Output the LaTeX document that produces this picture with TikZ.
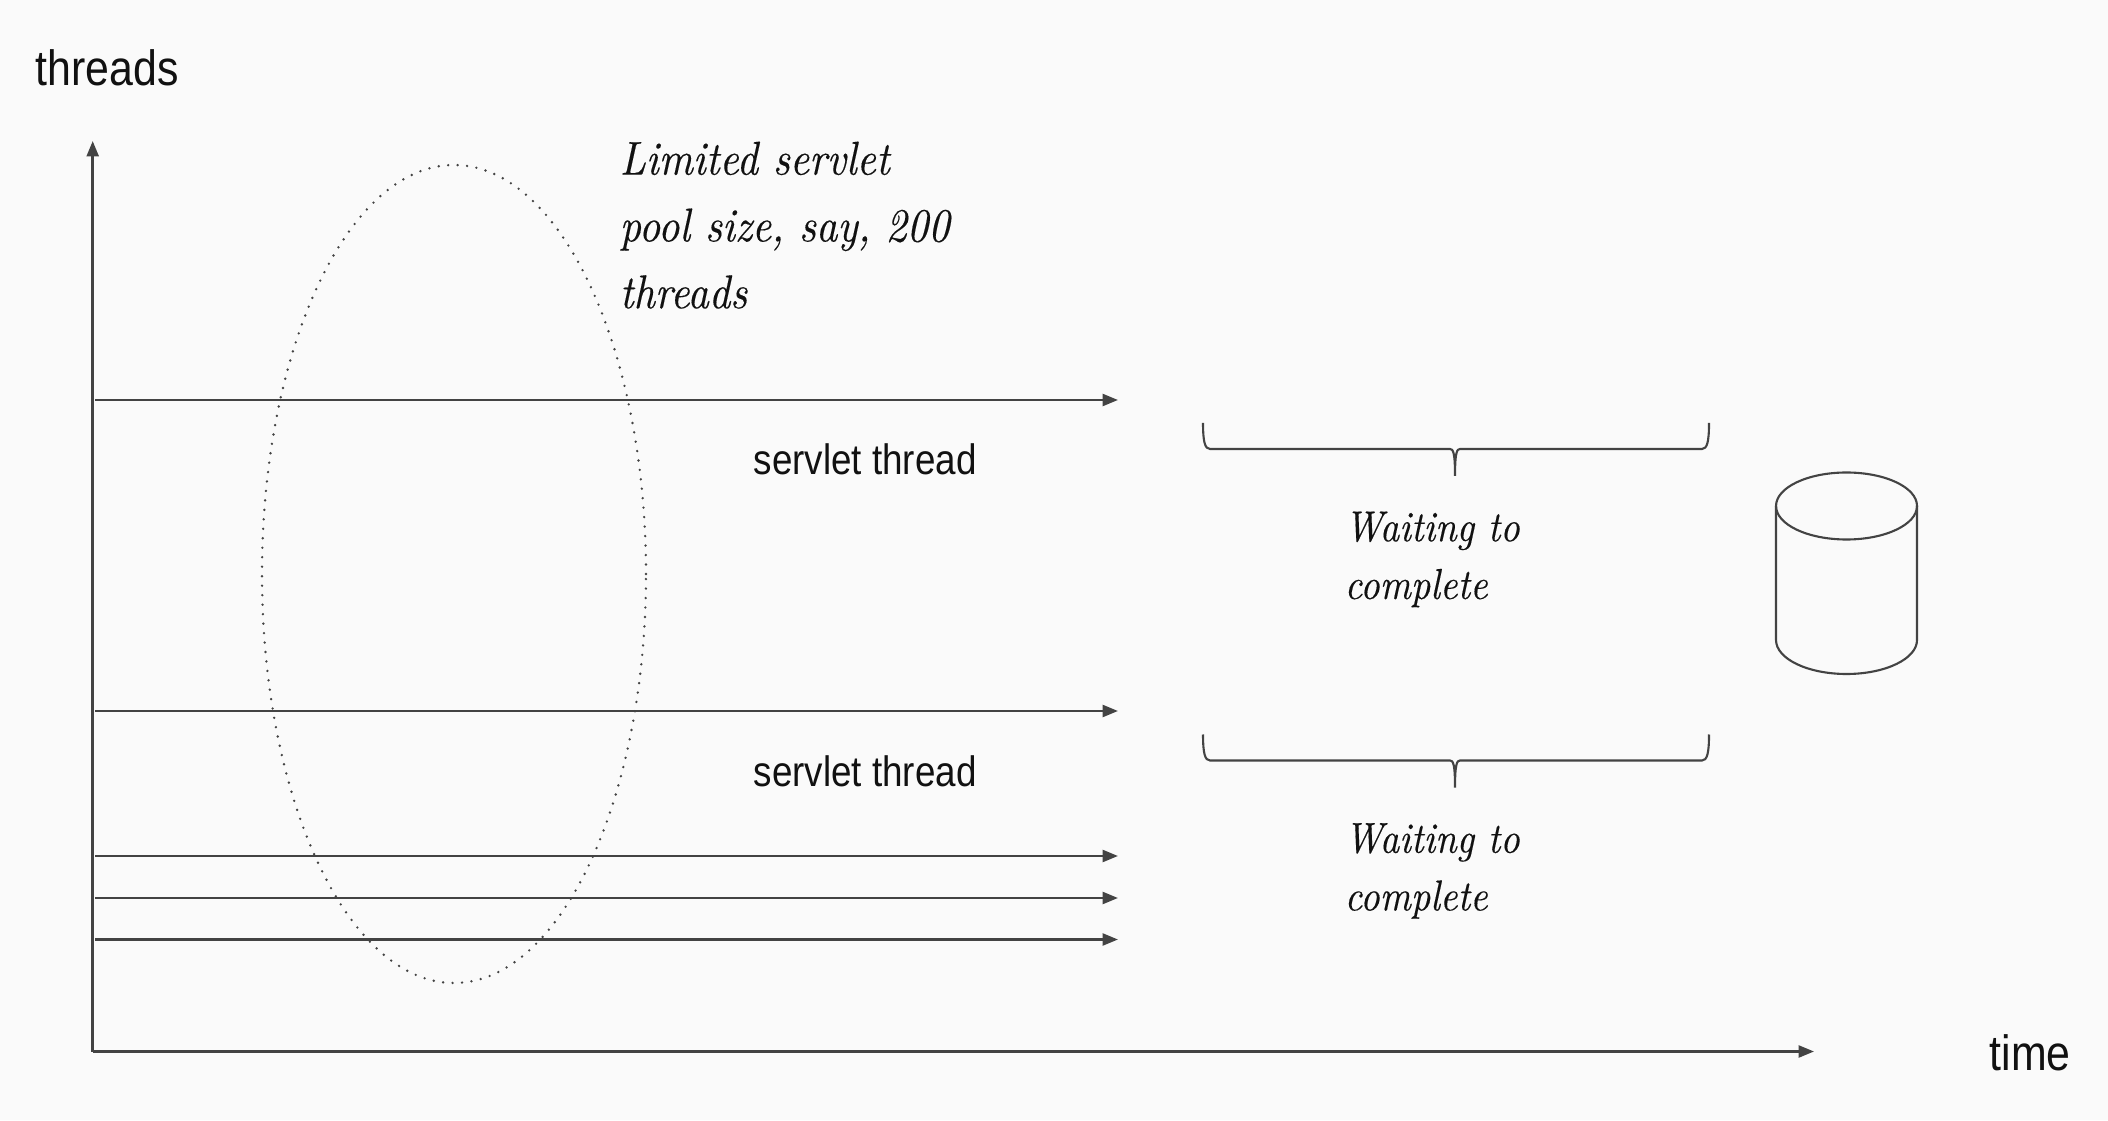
\documentclass[tikz,border=0pt]{standalone}
\usepackage{fontspec}
\setsansfont[FakeStretch=0.865]{Liberation Sans}
\newfontfamily\handfont[FakeStretch=0.88, FakeBold=0.25]{lmroman10-italic.otf}
\usepackage{tikz}
\usetikzlibrary{arrows.meta, shapes.geometric}

\definecolor{paper}{HTML}{FAFAFA}
\definecolor{ink}{HTML}{434343}
\definecolor{lettering}{HTML}{111111}

\tikzset{
    axisline/.style={draw=ink, line width=0.75pt, -{Triangle[length=4.4pt, width=3.4pt]}},
    threadline/.style={axisline},
    shapeline/.style={draw=ink, line width=0.6pt},
    pooldots/.style={draw=ink, line width=0.75pt, line cap=round, dash pattern=on 0pt off 2.7pt},
    bigtext/.style={inner sep=0, text=lettering, font=\sffamily\fontsize{14.1}{17}\selectfont},
    threadtext/.style={inner sep=0, text=lettering, font=\sffamily\fontsize{12.1}{15}\selectfont},
    handtext/.style={inner sep=0, text=lettering, align=left, font=\handfont\fontsize{13.5}{19}\selectfont},
    waittext/.style={inner sep=0, text=lettering, align=left, font=\handfont\fontsize{12.3}{16.4}\selectfont}
}

\begin{document}
\begin{tikzpicture}
    \fill[paper] (0, 0) rectangle (21.08, 11.2);

    % axes
    \coordinate (origin) at (0.927, 0.685);
    \coordinate (ytop) at (0.927, 9.79);
    \coordinate (xend) at (18.14, 0.685);
    \draw[axisline] (origin) -- (ytop);
    \draw[axisline] (origin) -- (xend);
    \node[bigtext, anchor=base west] (threadslabel) at (0.35, 10.34) {threads};
    \node[bigtext, anchor=base west] (timelabel) at (19.89, 0.5) {time};

    % thread lines
    \coordinate (threadastart) at (0.95, 7.2);
    \coordinate (threadaend) at (11.18, 7.2);
    \coordinate (threadbstart) at (0.95, 4.09);
    \coordinate (threadbend) at (11.18, 4.09);
    \coordinate (threadcstart) at (0.95, 2.64);
    \coordinate (threadcend) at (11.18, 2.64);
    \coordinate (threaddstart) at (0.95, 2.22);
    \coordinate (threaddend) at (11.18, 2.22);
    \coordinate (threadestart) at (0.95, 1.805);
    \coordinate (threadeend) at (11.18, 1.805);
    \draw[threadline] (threadastart) -- (threadaend);
    \draw[threadline] (threadbstart) -- (threadbend);
    \draw[threadline] (threadcstart) -- (threadcend);
    \draw[threadline] (threaddstart) -- (threaddend);
    \draw[threadline] (threadestart) -- (threadeend);
    \node[threadtext, anchor=base west] (servleta) at (7.53, 6.45) {servlet thread};
    \node[threadtext, anchor=base west] (servletb) at (7.53, 3.335) {servlet thread};

    % servlet pool
    \node[ellipse, pooldots, inner sep=0, minimum width=3.84cm, minimum height=8.18cm] (pool) at (4.54, 5.46) {};
    \node[handtext, anchor=north west] (poolnote) at (6.19, 9.79) {Limited servlet\\pool size, say, 200\\threads};

    % waiting braces
    \draw[shapeline] (12.03, 6.97) .. controls (12.03, 6.78) and (12.05, 6.71) .. (12.1, 6.71) -- (14.5, 6.71)
        .. controls (14.53, 6.71) and (14.55, 6.68) .. (14.55, 6.44)
        .. controls (14.55, 6.68) and (14.57, 6.71) .. (14.6, 6.71) -- (17.02, 6.71)
        .. controls (17.07, 6.71) and (17.09, 6.78) .. (17.09, 6.97);
    \draw[shapeline] (12.03, 3.855) .. controls (12.03, 3.665) and (12.05, 3.595) .. (12.1, 3.595) -- (14.5, 3.595)
        .. controls (14.53, 3.595) and (14.55, 3.565) .. (14.55, 3.325)
        .. controls (14.55, 3.565) and (14.57, 3.595) .. (14.6, 3.595) -- (17.02, 3.595)
        .. controls (17.07, 3.595) and (17.09, 3.665) .. (17.09, 3.855);
    \node[waittext, anchor=north west] (waita) at (13.44, 6.09) {Waiting to\\complete};
    \node[waittext, anchor=north west] (waitb) at (13.44, 2.975) {Waiting to\\complete};

    % database
    \draw[shapeline] (18.465, 6.14) ellipse (0.705 and 0.335);
    \draw[shapeline] (17.76, 6.14) -- (17.76, 4.8) arc[start angle=180, end angle=360, x radius=0.705, y radius=0.34] -- (19.17, 6.14);
\end{tikzpicture}
\end{document}
